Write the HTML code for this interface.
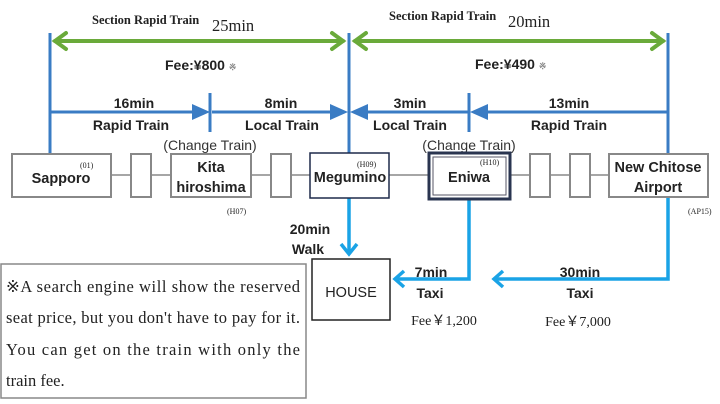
<!DOCTYPE html>
<html><head><meta charset="utf-8"><style>
body{margin:0;background:#fff}
svg{display:block}
.s{font-family:"Liberation Sans",sans-serif;font-weight:bold;fill:#222}
.r{font-family:"Liberation Serif",serif;fill:#222}
</style></head><body>
<svg width="720" height="404" viewBox="0 0 720 404" xmlns="http://www.w3.org/2000/svg">
<g stroke="#3a7cc4" stroke-width="3">
<line x1="50" y1="33" x2="50" y2="154"/>
<line x1="349" y1="33" x2="349" y2="154"/>
<line x1="668" y1="33" x2="668" y2="154"/>
<line x1="210" y1="93" x2="210" y2="132"/>
<line x1="469" y1="93" x2="469" y2="132"/>
<line x1="50" y1="112" x2="196" y2="112"/>
<line x1="212" y1="112" x2="336" y2="112"/>
<line x1="364" y1="112" x2="469" y2="112"/>
<line x1="484" y1="112" x2="668" y2="112"/>
</g>
<g fill="#3a7cc4">
<polygon points="192,104 210,112 192,120"/>
<polygon points="330,104 348,112 330,120"/>
<polygon points="368,104 350,112 368,120"/>
<polygon points="488,104 470,112 488,120"/>
</g>
<g stroke="#6aaa3a" stroke-width="4" fill="none" stroke-linecap="round">
<line x1="55" y1="41" x2="343" y2="41"/>
<polyline points="66,33 55,41 66,49"/>
<polyline points="332,33 343,41 332,49"/>
<line x1="355" y1="41" x2="663" y2="41"/>
<polyline points="366,33 355,41 366,49"/>
<polyline points="652,33 663,41 652,49"/>
</g>
<text class="r" x="92" y="24" font-size="12.5" font-weight="bold">Section Rapid Train</text>
<text class="r" x="212" y="31" font-size="16.5">25min</text>
<text class="r" x="389" y="20" font-size="12.5" font-weight="bold">Section Rapid Train</text>
<text class="r" x="508" y="27" font-size="16.5">20min</text>
<text class="s" x="165" y="70" font-size="14">Fee:¥800 <tspan font-size="9" fill="#888">※</tspan></text>
<text class="s" x="475" y="69" font-size="14">Fee:¥490 <tspan font-size="9" fill="#888">※</tspan></text>
<g class="s" font-size="14" text-anchor="middle">
<text x="134" y="108">16min</text>
<text x="131" y="130">Rapid Train</text>
<text x="281" y="108">8min</text>
<text x="282" y="130">Local Train</text>
<text x="410" y="108">3min</text>
<text x="410" y="130">Local Train</text>
<text x="569" y="108">13min</text>
<text x="569" y="130">Rapid Train</text>
</g>
<text x="210" y="150" text-anchor="middle" font-family="Liberation Sans,sans-serif" font-size="14" fill="#333">(Change Train)</text>
<text x="469" y="150" text-anchor="middle" font-family="Liberation Sans,sans-serif" font-size="14" fill="#333">(Change Train)</text>
<line x1="111" y1="175" x2="609" y2="175" stroke="#888" stroke-width="1.5"/>
<g stroke="#1aa3e6" stroke-width="3.5" fill="none">
<line x1="349" y1="154" x2="349" y2="252"/>
<polyline points="341,244 349,254 357,244"/>
<polyline points="469,199 469,279 396,279"/>
<polyline points="404,271 395,279 404,287"/>
<polyline points="668,198 668,279 495,279"/>
<polyline points="503,271 494,279 503,287"/>
</g>
<g fill="#fff" stroke="#888" stroke-width="2">
<rect x="12" y="154" width="99" height="43"/>
<rect x="131" y="154" width="20" height="43"/>
<rect x="171" y="154" width="80" height="43"/>
<rect x="271" y="154" width="20" height="43"/>
<rect x="530" y="154" width="20" height="43"/>
<rect x="570" y="154" width="20" height="43"/>
<rect x="609" y="154" width="99" height="43"/>
</g>
<rect x="310" y="153" width="79" height="45" fill="#fff" stroke="#1e2a4a" stroke-width="1.5"/>
<rect x="429" y="153" width="81" height="46" fill="#fff" stroke="#2a3550" stroke-width="3"/>
<rect x="433" y="157" width="73" height="38" fill="none" stroke="#556" stroke-width="1"/>
<g class="s" font-size="14.5" text-anchor="middle">
<text x="61" y="183">Sapporo</text>
<text x="211" y="172">Kita</text>
<text x="211" y="192">hiroshima</text>
<text x="350" y="182">Megumino</text>
<text x="469" y="182">Eniwa</text>
<text x="658" y="172">New Chitose</text>
<text x="658" y="192">Airport</text>
</g>
<g class="r" font-size="8">
<text x="80" y="168">(01)</text>
<text x="227" y="214">(H07)</text>
<text x="357" y="167">(H09)</text>
<text x="480" y="165">(H10)</text>
<text x="688" y="214">(AP15)</text>
</g>
<text class="s" x="310" y="234" font-size="14" text-anchor="middle">20min</text>
<text class="s" x="308" y="254" font-size="14" text-anchor="middle">Walk</text>
<rect x="312" y="259" width="78" height="61" fill="#fff" stroke="#222" stroke-width="1.5"/>
<text x="351" y="297" text-anchor="middle" font-family="Liberation Sans,sans-serif" font-size="14.5" fill="#222">HOUSE</text>
<text class="s" x="431" y="277" font-size="14" text-anchor="middle">7min</text>
<text class="s" x="430" y="298" font-size="14" text-anchor="middle">Taxi</text>
<text class="s" x="580" y="277" font-size="14" text-anchor="middle">30min</text>
<text class="s" x="580" y="298" font-size="14" text-anchor="middle">Taxi</text>
<text class="r" x="444" y="325" font-size="14" text-anchor="middle">Fee￥1,200</text>
<text class="r" x="578" y="326" font-size="14" text-anchor="middle">Fee￥7,000</text>
<rect x="1" y="264" width="305" height="134" fill="#fff" stroke="#888" stroke-width="1.5"/>
<g class="r" font-size="16.5">
<text x="6" y="292" textLength="294" lengthAdjust="spacing">※A search engine will show the reserved</text>
<text x="6" y="323" textLength="294" lengthAdjust="spacing">seat price, but you don't have to pay for it.</text>
<text x="6" y="355" textLength="294" lengthAdjust="spacing">You can get on the train with only the</text>
<text x="6" y="386">train fee.</text>
</g>
</svg>
</body></html>
